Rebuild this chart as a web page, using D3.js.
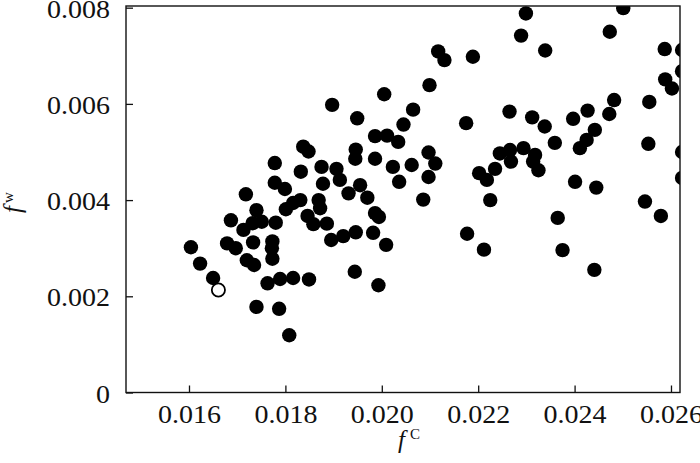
<!DOCTYPE html>
<html>
<head>
<meta charset="utf-8">
<script src="https://cdn.jsdelivr.net/npm/d3@7/dist/d3.min.js"></script>
<style>
	html, body { margin: 0; padding: 0; background: #fff; }
	svg text { font-family: "Liberation Serif", "DejaVu Serif", serif; fill: #111; }
</style>
</head>
<body>
<svg id="chart" width="700" height="463"></svg>
<script>
// f^C values of the filled points
var fcValues = [
	0.01604, 0.01623, 0.01650, 0.01740, 0.01787, 0.01808, 0.01718, 0.01687, 0.01740, 0.01778,
	0.01837, 0.01848, 0.01832, 0.01778, 0.01799, 0.01875, 0.01906, 0.01913, 0.01878, 0.01713,
	0.01732, 0.01751, 0.01733, 0.01679, 0.01697, 0.01720, 0.01735, 0.01773, 0.01772, 0.01773,
	0.01763, 0.01789, 0.01816, 0.01849, 0.01816, 0.01831, 0.01801, 0.01780, 0.01846, 0.01858,
	0.01869, 0.01872, 0.01886, 0.01895, 0.01920, 0.01931, 0.01897, 0.01949, 0.02005, 0.02099,
	0.02065, 0.02045, 0.01986, 0.02011, 0.02034, 0.01946, 0.01945, 0.01986, 0.02023, 0.02062,
	0.02097, 0.02111, 0.02097, 0.02036, 0.02086, 0.01955, 0.01970, 0.01986, 0.01994, 0.01982,
	0.01946, 0.02009, 0.01944, 0.01993, 0.02117, 0.02130, 0.02189, 0.02299, 0.02289, 0.02339,
	0.02265, 0.02175, 0.02312, 0.02338, 0.02359, 0.02397, 0.02245, 0.02266, 0.02294, 0.02318,
	0.02268, 0.02314, 0.02325, 0.02235, 0.02202, 0.02218, 0.02225, 0.02365, 0.02177, 0.02212,
	0.02375, 0.02441, 0.02473, 0.02501, 0.02587, 0.02623, 0.02623, 0.02588, 0.02602, 0.02555,
	0.02482, 0.02472, 0.02427, 0.02442, 0.02425, 0.02411, 0.02553, 0.02623, 0.02623, 0.02401,
	0.02445, 0.02546, 0.02579
];
// f^w values of the filled points
var fwValues = [
	0.00302, 0.00268, 0.00238, 0.00178, 0.00174, 0.00119, 0.00412, 0.00358, 0.00379, 0.00477,
	0.00511, 0.00501, 0.00459, 0.00436, 0.00423, 0.00469, 0.00465, 0.00442, 0.00434, 0.00338,
	0.00352, 0.00355, 0.00312, 0.00310, 0.00300, 0.00275, 0.00265, 0.00314, 0.00300, 0.00278,
	0.00227, 0.00236, 0.00238, 0.00235, 0.00394, 0.00400, 0.00381, 0.00353, 0.00367, 0.00350,
	0.00400, 0.00383, 0.00351, 0.00317, 0.00325, 0.00414, 0.00598, 0.00570, 0.00620, 0.00639,
	0.00588, 0.00557, 0.00533, 0.00534, 0.00521, 0.00505, 0.00486, 0.00486, 0.00469, 0.00473,
	0.00499, 0.00476, 0.00448, 0.00438, 0.00401, 0.00431, 0.00405, 0.00373, 0.00365, 0.00332,
	0.00333, 0.00307, 0.00251, 0.00223, 0.00709, 0.00691, 0.00698, 0.00788, 0.00742, 0.00711,
	0.00584, 0.00560, 0.00572, 0.00553, 0.00519, 0.00569, 0.00497, 0.00504, 0.00508, 0.00494,
	0.00480, 0.00480, 0.00462, 0.00465, 0.00456, 0.00442, 0.00400, 0.00363, 0.00330, 0.00297,
	0.00296, 0.00255, 0.00750, 0.00799, 0.00714, 0.00712, 0.00668, 0.00651, 0.00632, 0.00604,
	0.00608, 0.00579, 0.00586, 0.00546, 0.00525, 0.00508, 0.00517, 0.00500, 0.00446, 0.00438,
	0.00426, 0.00397, 0.00367
];
// the single open point
var openFc = [0.01661];
var openFw = [0.00213];

var xTicks = [0.016, 0.018, 0.020, 0.022, 0.024, 0.026];
var yTicks = [0, 0.002, 0.004, 0.006, 0.008];
var xDomain = [0.014693, 0.026187];
var yDomain = [0, 0.008035];

(function(d3) {
	'use strict';

	var left = 126, right = 680, top = 6, bottom = 392.5;
	var stretch = 1.12; // tick labels are set a little wider than the serif font
	var svg = d3.select('#chart');

	var x = d3.scaleLinear().domain(xDomain).range([left, right]);
	var y = d3.scaleLinear().domain(yDomain).range([bottom, top]);

	var formatTick = function(v) {
		return v === 0 ? '0' : d3.format('.3f')(v);
	};

	svg.append('defs').append('clipPath').attr('id', 'plot-clip')
		.append('rect').attr('x', left).attr('y', top).attr('width', right - left).attr('height', bottom - top);

	/** points */
	var filled = d3.range(fcValues.length).map(function(i) {
		return [fcValues[i], fwValues[i]];
	});
	var open = openFc.map(function(v, i) {
		return [v, openFw[i]];
	});
	var points = svg.append('g').attr('clip-path', 'url(#plot-clip)');
	points.selectAll('circle.filled').data(filled).enter().append('circle')
		.attr('class', 'filled')
		.attr('cx', function(d) { return x(d[0]); })
		.attr('cy', function(d) { return y(d[1]); })
		.attr('r', 7.2)
		.attr('fill', '#000');
	points.selectAll('circle.open').data(open).enter().append('circle')
		.attr('class', 'open')
		.attr('cx', function(d) { return x(d[0]); })
		.attr('cy', function(d) { return y(d[1]); })
		.attr('r', 6.6)
		.attr('fill', '#fff')
		.attr('stroke', '#000')
		.attr('stroke-width', 1.8);

	/** axes */
	var xAxis = svg.append('g').attr('transform', 'translate(0,' + bottom + ')')
		.call(d3.axisBottom(x).tickValues(xTicks).tickSizeInner(-7).tickSizeOuter(0).tickPadding(13).tickFormat(formatTick));
	var yAxis = svg.append('g').attr('transform', 'translate(' + left + ',0)')
		.call(d3.axisLeft(y).tickValues(yTicks).tickSizeInner(-7).tickSizeOuter(0).tickFormat(formatTick));
	[xAxis, yAxis].forEach(function(axis) {
		axis.select('.domain').remove();
		axis.selectAll('line').attr('stroke', '#111').attr('stroke-width', 1.3);
		axis.selectAll('text').attr('font-size', 25).attr('fill', '#111')
			.attr('font-family', '"Liberation Serif", serif')
			.attr('transform', 'scale(' + stretch + ',1)');
	});
	yAxis.selectAll('text').attr('x', -16 / stretch).attr('dy', '0.38em');

	// frame
	svg.append('rect').attr('x', left).attr('y', top).attr('width', right - left).attr('height', bottom - top)
		.attr('fill', 'none').attr('stroke', '#111').attr('stroke-width', 1.4);

	/** titles */
	var xTitle = svg.append('text').attr('x', 398).attr('y', 448).attr('font-size', 25);
	xTitle.append('tspan').attr('font-style', 'italic').text('f');
	xTitle.append('tspan').attr('font-size', 15).attr('dx', 5).attr('dy', -9).text('C');

	var yTitle = svg.append('text').attr('transform', 'translate(21,213) rotate(-90)').attr('font-size', 25);
	yTitle.append('tspan').attr('font-style', 'italic').text('f');
	yTitle.append('tspan').attr('font-size', 15).attr('dx', 3).attr('dy', -8).text('w');
})(d3);
</script>
</body>
</html>
